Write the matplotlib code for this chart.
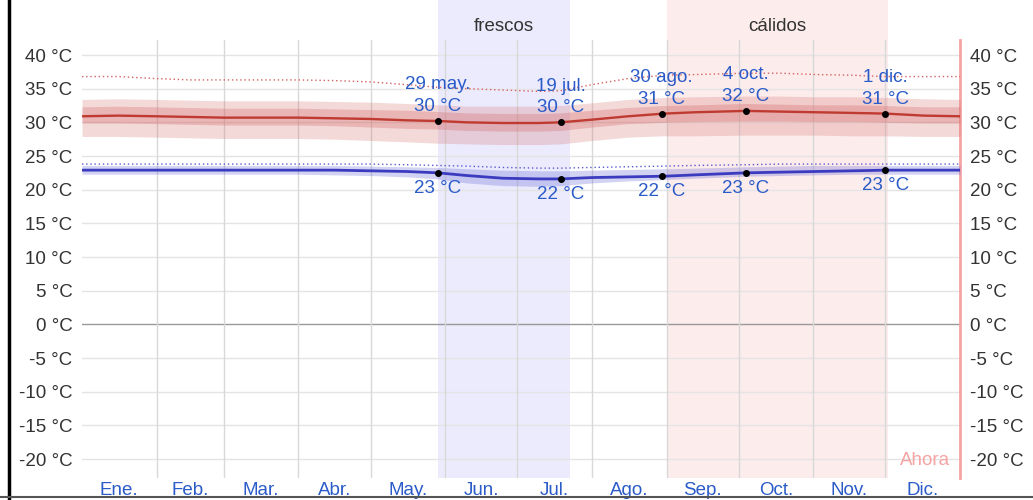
import matplotlib
matplotlib.use("Agg")
import matplotlib.pyplot as plt
from matplotlib.lines import Line2D

plt.rcParams["font.family"] = ["Liberation Sans", "DejaVu Sans"]

# dias del año (0 = 1 ene) donde se leyeron los valores
dias = [0, 15, 31, 45, 59, 74, 90, 105, 120, 135, 148, 160, 175, 190, 199,
        212, 227, 242, 255, 276, 290, 305, 320, 334, 350, 365]

# temperatura maxima promedio
maxima = [30.9, 31.0, 30.9, 30.8, 30.7, 30.7, 30.7, 30.6, 30.5, 30.3, 30.2, 30.0,
          29.9, 29.9, 30.0, 30.4, 30.9, 31.3, 31.5, 31.7, 31.6, 31.5, 31.4, 31.3, 31.0, 30.9]
max_p25 = [29.9, 29.9, 29.8, 29.7, 29.6, 29.6, 29.6, 29.5, 29.3, 29.1, 29.0, 28.8,
           28.7, 28.7, 28.8, 29.3, 29.8, 30.0, 30.1, 30.2, 30.2, 30.1, 30.1, 30.0, 29.9, 29.9]
max_p75 = [32.3, 32.4, 32.3, 32.2, 32.1, 32.1, 32.1, 32.0, 31.9, 31.8, 31.6, 31.4,
           31.3, 31.3, 31.4, 31.8, 32.2, 32.5, 32.6, 32.8, 32.7, 32.6, 32.6, 32.5, 32.3, 32.3]
max_p10 = [27.9, 27.9, 27.8, 27.7, 27.6, 27.6, 27.6, 27.5, 27.3, 27.1, 26.9, 26.8,
           26.7, 26.7, 26.8, 27.3, 27.8, 28.0, 28.0, 28.1, 28.1, 28.1, 28.0, 28.0, 27.9, 27.9]
max_p90 = [33.4, 33.5, 33.4, 33.3, 33.2, 33.2, 33.2, 33.1, 33.0, 32.8, 32.6, 32.4,
           32.4, 32.4, 32.5, 32.9, 33.4, 33.7, 33.8, 33.9, 33.9, 33.8, 33.8, 33.7, 33.5, 33.4]
max_perc = [36.8, 36.8, 36.5, 36.3, 36.3, 36.3, 36.3, 36.2, 36.0, 35.6, 35.2, 35.0,
            34.8, 34.6, 34.7, 35.6, 36.5, 37.0, 37.1, 37.3, 37.3, 37.1, 37.0, 36.8, 36.8, 36.8]

# temperatura minima promedio
minima = [22.9, 22.9, 22.9, 22.9, 22.9, 22.9, 22.9, 22.9, 22.8, 22.7, 22.5, 22.1,
          21.7, 21.6, 21.6, 21.8, 21.9, 22.0, 22.2, 22.5, 22.6, 22.7, 22.8, 22.9, 22.9, 22.9]
min_p10 = [22.3, 22.3, 22.3, 22.3, 22.3, 22.3, 22.3, 22.2, 22.1, 21.9, 21.6, 21.0,
           20.6, 20.5, 20.6, 21.0, 21.3, 21.5, 21.7, 22.0, 22.1, 22.2, 22.3, 22.3, 22.3, 22.3]
min_p90 = [23.6, 23.6, 23.6, 23.6, 23.6, 23.6, 23.6, 23.6, 23.5, 23.4, 23.3, 23.1,
           22.9, 22.8, 22.8, 22.9, 23.0, 23.1, 23.2, 23.4, 23.5, 23.6, 23.6, 23.6, 23.6, 23.6]
min_perc = [23.8, 23.8, 23.8, 23.8, 23.8, 23.8, 23.8, 23.8, 23.8, 23.7, 23.6, 23.5,
            23.3, 23.2, 23.2, 23.3, 23.4, 23.5, 23.6, 23.7, 23.8, 23.8, 23.8, 23.8, 23.8, 23.8]

# puntos destacados
pt_dias = [148, 199, 241, 276, 334]
pt_fechas = ["29 may.", "19 jul.", "30 ago.", "4 oct.", "1 dic."]
pt_max = [30.2, 30.0, 31.3, 31.7, 31.3]
pt_max_txt = ["30 °C", "30 °C", "31 °C", "32 °C", "31 °C"]
pt_min = [22.5, 21.6, 22.0, 22.5, 22.9]
pt_min_txt = ["23 °C", "22 °C", "22 °C", "23 °C", "23 °C"]

meses = ["Ene.", "Feb.", "Mar.", "Abr.", "May.", "Jun.", "Jul.", "Ago.", "Sep.", "Oct.", "Nov.", "Dic."]
inicio_mes = [0, 31, 59, 90, 120, 151, 181, 212, 243, 273, 304, 334, 365]
temps = [40, 35, 30, 25, 20, 15, 10, 5, 0, -5, -10, -15, -20]

frescos = (148, 203)
calidos = (243, 335)

azul_txt = "#2a5bc8"
gris_txt = "#333333"
fs = 13.5

fig = plt.figure(figsize=(10.33, 5), dpi=100)
ax = fig.add_axes([82 / 1033, 22 / 500, 878 / 1033, 478 / 500])
ax.set_xlim(0, 365)
ax.set_ylim(-22.82, 48.17)
for s in ax.spines.values():
    s.set_visible(False)

ax.axvspan(*frescos, color="#ebebfd", zorder=0, lw=0)
ax.axvspan(*calidos, color="#fdecec", zorder=0, lw=0)
ax.text(sum(frescos) / 2, 44.2, "frescos", ha="center", va="center", fontsize=fs, color=gris_txt)
ax.text(sum(calidos) / 2, 44.2, "cálidos", ha="center", va="center", fontsize=fs, color=gris_txt)

for t in temps:
    ax.axhline(t, color="#999999" if t == 0 else "#e4e4e4", lw=1, zorder=1)
for d in inicio_mes[1:-1]:
    ax.plot([d, d], [-22.82, 42.2], color="#d8d8d8", lw=1, zorder=1)

ax.plot([365, 365], [-22.82, 42.2], color="#f5a3a3", lw=2, zorder=2, clip_on=False)
ax.text(361, -20.2, "Ahora", ha="right", va="center", fontsize=fs, color="#f5a3a3")

ax.fill_between(dias, max_p10, max_p90, color="#d46a6a", alpha=0.25, lw=0, zorder=3)
ax.fill_between(dias, max_p25, max_p75, color="#d46a6a", alpha=0.32, lw=0, zorder=3)
ax.plot(dias, maxima, color="#bf3a30", lw=1.7, zorder=4)
ax.plot(dias, max_perc, color="#d56060", lw=1, ls=(0, (1, 2)), zorder=4)

ax.fill_between(dias, min_p10, min_p90, color="#6a6ad8", alpha=0.3, lw=0, zorder=3)
ax.plot(dias, minima, color="#3b3bbf", lw=2, zorder=4)
ax.plot(dias, min_perc, color="#5a5ad0", lw=1, ls=(0, (1, 2)), zorder=4)

ax.scatter(pt_dias, pt_max, s=16, color="black", zorder=5)
ax.scatter(pt_dias, pt_min, s=16, color="black", zorder=5)
for d, f, v, tv, m, tm in zip(pt_dias, pt_fechas, pt_max, pt_max_txt, pt_min, pt_min_txt):
    ax.annotate(f, (d, v), xytext=(0, 26), textcoords="offset points", ha="center", va="center",
                fontsize=fs, color=azul_txt, zorder=6)
    ax.annotate(tv, (d, v), xytext=(0, 10.5), textcoords="offset points", ha="center", va="center",
                fontsize=fs, color=azul_txt, zorder=6)
    ax.annotate(tm, (d, m), xytext=(0, -11), textcoords="offset points", ha="center", va="center",
                fontsize=fs, color=azul_txt, zorder=6)

ax.set_xticks([(inicio_mes[i] + inicio_mes[i + 1]) / 2 for i in range(12)])
ax.set_xticklabels(meses, fontsize=fs, color=azul_txt)
ax.tick_params(axis="x", length=0, pad=3)

ax.set_yticks(temps)
ax.set_yticklabels([f"{t} °C" for t in temps], fontsize=fs, color=gris_txt)
ax.tick_params(axis="y", length=0, pad=7, labelright=True, labelleft=True)

# marco negro de la captura
fig.add_artist(Line2D([9 / 1033, 9 / 1033], [0, 1], color="black", lw=2.5))
fig.add_artist(Line2D([0, 1], [3 / 500, 3 / 500], color="#555555", lw=1.5))

fig.savefig("out.png", dpi=100)
